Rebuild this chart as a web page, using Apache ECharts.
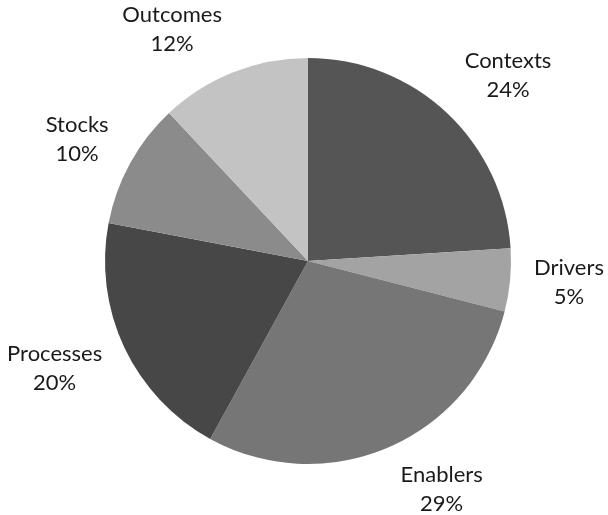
<!DOCTYPE html>
<html>
<head>
<meta charset="utf-8">
<style>
  html, body { margin: 0; padding: 0; background: #ffffff; }
  #chart { width: 608px; height: 515px; }
</style>
<script src="https://cdn.jsdelivr.net/npm/echarts@6/dist/echarts.min.js"></script>
</head>
<body>
<div id="chart"></div>
<script>
// Share of each category (percent), clockwise from 12 o'clock
const categories = ['Contexts', 'Drivers', 'Enablers', 'Processes', 'Stocks', 'Outcomes'];
const shares = [24, 5, 29, 20, 10, 12];
const sliceColors = ['#555555', '#a3a3a3', '#767676', '#474747', '#8b8b8b', '#c3c3c3'];

const CX = 308, CY = 261, R = 203, GAP = 20, PAD = 4;
const FONT_SIZE = 22, LINE_H = 29, FONT_FAMILY = 'Lato';

const total = shares.reduce((a, b) => a + b, 0);
// mid-angle of each slice in degrees, measured clockwise from 12 o'clock
const midAngles = [];
let acc = 0;
shares.forEach(v => { midAngles.push((acc + v / 2) / total * 360); acc += v; });

const labelText = i => categories[i] + '\n' + shares[i] + '%';

// width of a two-line label, measured with the same font the chart draws
const measureCtx = document.createElement('canvas').getContext('2d');
measureCtx.font = FONT_SIZE + 'px ' + FONT_FAMILY;
const labelWidth = i => Math.max(...labelText(i).split('\n').map(s => measureCtx.measureText(s).width));

// Outside-end label: anchor point sits GAP px beyond the rim on the slice's mid-angle;
// the box hangs off that point, sideways fully and vertically by an amount that grows
// as the slice points further up or down.
function placeLabel(angleDeg, w, h) {
  const a = angleDeg * Math.PI / 180;
  const sx = Math.sin(a), sy = -Math.cos(a);
  const px = CX + sx * (R + GAP), py = CY + sy * (R + GAP);
  const fy = Math.sign(sy) * Math.min(1, Math.max(0, (Math.abs(sy) - 0.1) / 0.65));
  return { x: px + Math.sign(sx) * (w / 2 + PAD), y: py + fy * h / 2 };
}

const chart = echarts.init(document.getElementById('chart'), null, { renderer: 'canvas' });

chart.setOption({
  animation: false,
  backgroundColor: '#ffffff',
  series: [{
    type: 'pie',
    center: [CX, CY],
    radius: R,
    startAngle: 90,
    clockwise: true,
    avoidLabelOverlap: false,
    emphasis: { disabled: true },
    itemStyle: { borderWidth: 0 },
    label: {
      show: true,
      position: 'outside',
      fontFamily: FONT_FAMILY,
      fontSize: FONT_SIZE,
      lineHeight: LINE_H,
      color: '#1a1a1a',
      align: 'center',
      formatter: p => labelText(p.dataIndex)
    },
    labelLine: { show: false, length: 10, length2: 0 },
    labelLayout: function (params) {
      const i = params.dataIndex;
      const pos = placeLabel(midAngles[i], labelWidth(i), 2 * LINE_H - 10);
      return { x: pos.x, y: pos.y, align: 'center', verticalAlign: 'middle' };
    },
    data: categories.map((name, i) => ({
      name: name,
      value: shares[i],
      itemStyle: { color: sliceColors[i] }
    }))
  }]
});
</script>
</body>
</html>
